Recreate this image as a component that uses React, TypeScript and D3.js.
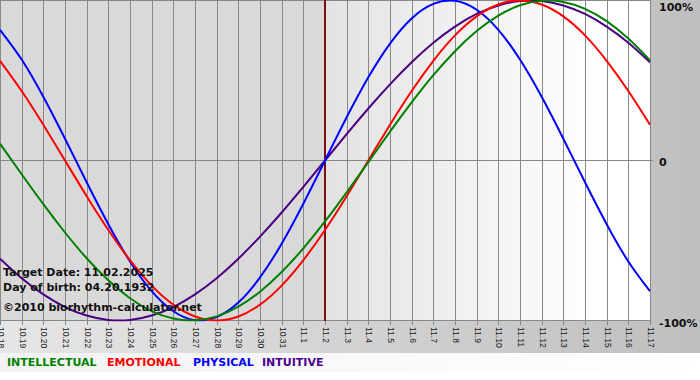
import React from 'react';
import * as d3 from 'd3';

const dayLabels = ['10.18','10.19','10.20','10.21','10.22','10.23','10.24','10.25','10.26','10.27','10.28','10.29','10.30','10.31','11.1','11.2','11.3','11.4','11.5','11.6','11.7','11.8','11.9','11.10','11.11','11.12','11.13','11.14','11.15','11.16','11.17'];
const intellectual = [10.5, -8.6, -27.3, -45.0, -61.1, -74.9, -86.1, -94.2, -98.8, -99.9, -97.4, -91.4, -82.0, -69.7, -54.9, -38.1, -19.9, -1.0, 18.0, 36.3, 53.3, 68.3, 80.9, 90.6, 97.0, 99.8, 99.1, 94.8, 87.1, 76.2, 62.6];
const emotional = [62.3, 43.4, 22.3, 0, -22.3, -43.4, -62.3, -78.2, -90.1, -97.5, -100, -97.5, -90.1, -78.2, -62.3, -43.4, -22.3, 0, 22.3, 43.4, 62.3, 78.2, 90.1, 97.5, 100, 97.5, 90.1, 78.2, 62.3, 43.4, 22.3];
const physical = [81.7, 63.1, 39.8, 13.6, -13.6, -39.8, -63.1, -81.7, -94.2, -99.8, -97.9, -88.8, -73.1, -52.0, -27.0, 0, 27.0, 52.0, 73.1, 88.8, 97.9, 99.8, 94.2, 81.7, 63.1, 39.8, 13.6, -13.6, -39.8, -63.1, -81.7];
const intuitive = [-61.4, -73.6, -83.7, -91.6, -96.9, -99.7, -99.7, -96.9, -91.6, -83.7, -73.6, -61.4, -47.6, -32.5, -16.5, 0, 16.5, 32.5, 47.6, 61.4, 73.6, 83.7, 91.6, 96.9, 99.7, 99.7, 96.9, 91.6, 83.7, 73.6, 61.4];
const yTickValues = [100, 0, -100];
const yTickLabels = ['100%', '0', '-100%'];
const legendNames = ['INTELLECTUAL', 'EMOTIONAL', 'PHYSICAL', 'INTUITIVE'];
const targetIndex = 15;
const infoLines = ['Target Date: 11.02.2025', 'Day of birth: 04.20.1932', '\u00A92010 biorhythm-calculator.net'];

const W = 700, H = 380;
const plotW = 650, plotTop = 0.5, plotBottom = 320.5;

export default function App() {
  const x = d3.scaleLinear().domain([0, dayLabels.length - 1]).range([0, plotW]);
  const y = d3.scaleLinear().domain([-100, 100]).range([plotBottom, plotTop]);
  const px = (i: number) => Math.round(x(i)) + 0.5;
  const line = d3.line<number>().x((_, i) => x(i)).y(d => y(d)).curve(d3.curveNatural);

  const series = [
    { name: 'INTUITIVE', data: intuitive, color: '#4b0082' },
    { name: 'PHYSICAL', data: physical, color: '#0000ff' },
    { name: 'EMOTIONAL', data: emotional, color: '#ff0000' },
    { name: 'INTELLECTUAL', data: intellectual, color: '#008000' },
  ];
  const legendColors: Record<string, string> = {
    INTELLECTUAL: '#008000', EMOTIONAL: '#ff0000', PHYSICAL: '#0000ff', INTUITIVE: '#4b0090',
  };
  const legendX = [7, 107, 193, 262];
  const yLabelBaseline = [11, 166, 327];
  const infoBaseline = [276, 291, 311];
  const tx = px(targetIndex);

  return (
    <svg width={W} height={H} style={{ position: 'absolute', left: 0, top: 0 }}
      xmlns="http://www.w3.org/2000/svg">
      <defs>
        <linearGradient id="bgGrad" x1="0" x2="1" y1="0" y2="0">
          <stop offset="0" stopColor="#e6e6e6" />
          <stop offset="1" stopColor="#bfbfbf" />
        </linearGradient>
        <linearGradient id="legGrad" x1="0" x2="1" y1="0" y2="0">
          <stop offset="0" stopColor="#f2f2f2" />
          <stop offset="1" stopColor="#ffffff" />
        </linearGradient>
        <linearGradient id="futGrad" x1="0" x2="1" y1="0" y2="0">
          <stop offset="0" stopColor="#e3e3e3" />
          <stop offset="0.85" stopColor="#ffffff" />
          <stop offset="1" stopColor="#ffffff" />
        </linearGradient>
        <clipPath id="plotClip">
          <rect x={0} y={0} width={plotW + 1} height={plotBottom + 1} />
        </clipPath>
      </defs>
      <rect x={0} y={0} width={W} height={H} fill="#ffffff" />
      <rect x={0} y={0} width={W} height={353} fill="url(#bgGrad)" />
      <rect x={0} y={353} width={W} height={19} fill="url(#legGrad)" />
      <rect x={0} y={0} width={tx} height={plotBottom} fill="#d9d9d9" />
      <rect x={tx} y={0} width={plotW - tx + 0.5} height={plotBottom} fill="url(#futGrad)" />

      {dayLabels.map((lab, i) => (
        <line key={'g' + i} x1={px(i)} x2={px(i)} y1={0} y2={325} stroke="#888888" strokeWidth={1} />
      ))}
      {yTickValues.map((v, i) => (
        <line key={'h' + i} x1={0} x2={i === 1 ? plotW + 3 : px(dayLabels.length - 1)} y1={y(v)} y2={y(v)}
          stroke="#888888" strokeWidth={1} />
      ))}

      <line x1={x(targetIndex)} x2={x(targetIndex)} y1={0} y2={plotBottom + 0.5} stroke="#7a0f0f" strokeWidth={2} />

      <g clipPath="url(#plotClip)">
        {series.map(s => (
          <path key={s.name} d={line(s.data) || ''} fill="none" stroke={s.color} strokeWidth={2} />
        ))}
      </g>

      {yTickLabels.map((lab, i) => (
        <text key={'yl' + i} x={659} y={yLabelBaseline[i]} fontFamily="DejaVu Sans" fontWeight="bold"
          fontSize={11} fill="#111">{lab}</text>
      ))}

      {dayLabels.map((lab, i) => (
        <text key={'xl' + i} transform={`translate(${px(i)},327) rotate(90)`} fontFamily="Liberation Sans"
          fontSize={8.5} fill="#222" dominantBaseline="central">{lab}</text>
      ))}

      {infoLines.map((t, i) => (
        <text key={'inf' + i} x={3} y={infoBaseline[i]} fontFamily="DejaVu Sans" fontWeight="bold"
          fontSize={11} fill="#111">{t}</text>
      ))}

      {legendNames.map((n, i) => (
        <text key={'lg' + i} x={legendX[i]} y={366} fontFamily="DejaVu Sans" fontWeight="bold"
          fontSize={11} fill={legendColors[n]}>{n}</text>
      ))}
    </svg>
  );
}
